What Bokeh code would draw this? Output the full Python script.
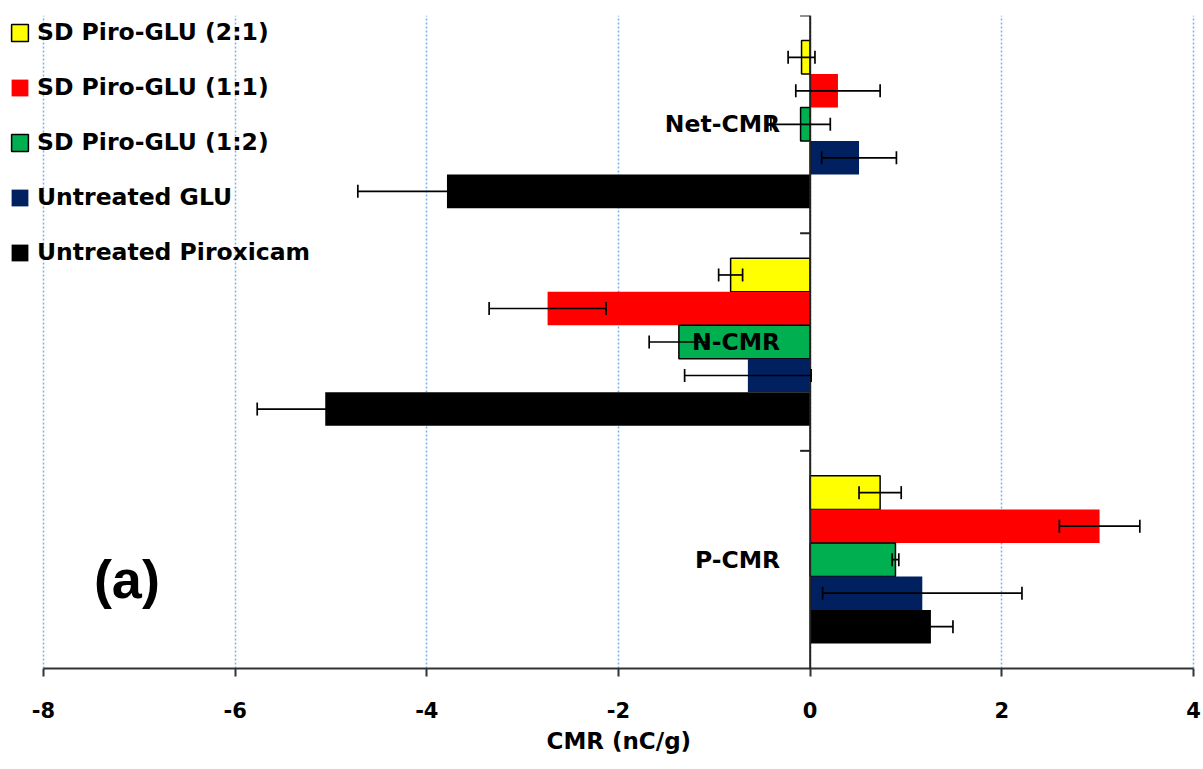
from bokeh.plotting import figure
from bokeh.models import (Range1d, FixedTicker, Whisker, TeeHead, ColumnDataSource, Span,
                          Label, Title)
from bokeh.core.properties import value
from bokeh.embed import file_html
from bokeh.resources import INLINE

# ---------------- data ----------------
categories = ["Net-CMR", "N-CMR", "P-CMR"]
series_names = ["SD Piro-GLU (2:1)", "SD Piro-GLU (1:1)", "SD Piro-GLU (1:2)",
                "Untreated GLU", "Untreated Piroxicam"]
vals_21 = [-0.09, -0.83, 0.73]
err_21 = [0.14, 0.125, 0.22]
vals_11 = [0.29, -2.74, 3.02]
err_11 = [0.44, 0.61, 0.42]
vals_12 = [-0.10, -1.37, 0.89]
err_12 = [0.31, 0.31, 0.035]
vals_glu = [0.51, -0.65, 1.17]
err_glu = [0.39, 0.66, 1.04]
vals_pir = [-3.79, -5.06, 1.26]
err_pir = [0.93, 0.71, 0.23]
x_ticks = [-8, -6, -4, -2, 0, 2, 4]
x_tick_labels = ["-8", "-6", "-4", "-2", "0", "2", "4"]
x_title = "CMR (nC/g)"

all_vals = [vals_21, vals_11, vals_12, vals_glu, vals_pir]
all_errs = [err_21, err_11, err_12, err_glu, err_pir]
colors = ["#FFFF00", "#FF0000", "#00B050", "#002060", "#000000"]
outlines = ["black", None, "black", None, None]

FONT = "DejaVu Sans"
n_cat = len(categories)
bar_h = 0.154

W, H = 1203, 769
PAD_L, PAD_R = 43, 10          # pixel room outside the -8..4 axis span
xmin, xmax = x_ticks[0], x_ticks[-1]
k = (W - PAD_L - PAD_R) / (xmax - xmin)
x_range = Range1d(xmin - PAD_L / k, xmax + PAD_R / k)

p = figure(width=W, height=H, x_range=x_range, y_range=Range1d(0, n_cat),
           output_backend="svg", toolbar_location=None, y_axis_location=None,
           min_border_left=0, min_border_right=0, min_border_top=15, min_border_bottom=101)
p.outline_line_color = None
p.background_fill_color = "white"

# grid
p.ygrid.visible = False
p.xgrid.ticker = FixedTicker(ticks=x_ticks)
p.xgrid.grid_line_color = "#7DB0E6"
p.xgrid.grid_line_dash = "2 2"
p.xgrid.grid_line_width = 1.5

# x axis
ax = p.xaxis[0]
ax.bounds = (xmin, xmax)
ax.ticker = FixedTicker(ticks=x_ticks)
ax.major_label_overrides = {t: lab for t, lab in zip(x_ticks, x_tick_labels)}
ax.axis_line_color = "#333333"
ax.axis_line_width = 2
ax.major_tick_line_color = "#333333"
ax.major_tick_line_width = 2
ax.major_tick_out = 8
ax.major_tick_in = 0
ax.minor_tick_line_color = None
ax.major_label_text_font = FONT
ax.major_label_text_font_style = "bold"
ax.major_label_text_font_size = "21px"
ax.major_label_text_color = "black"
ax.major_label_standoff = 25

# spacer between tick labels and the axis title
p.add_layout(Title(text=" ", text_font_size="1px", text_alpha=0, standoff=8), "below")
# x-axis title, centred under the -8..4 span
t_width_est = 144
p.add_layout(Title(text=x_title, align="left", offset=PAD_L + (W - PAD_L - PAD_R) / 2 - t_width_est / 2,
                   text_font=FONT, text_font_style="bold", text_font_size="23px",
                   text_color="black", standoff=10), "below")

# bars
cat_centers = [n_cat - i - 0.5 for i in range(n_cat)]
for s, (name, vals, errs, col, oc) in enumerate(zip(series_names, all_vals, all_errs, colors, outlines)):
    ys = [c + (2 - s) * bar_h for c in cat_centers]
    src = ColumnDataSource(dict(y=ys, v=vals, lo=[v - e for v, e in zip(vals, errs)],
                                hi=[v + e for v, e in zip(vals, errs)]))
    p.hbar(y="y", left=0, right="v", height=bar_h, source=src, fill_color=col,
           line_color=oc, line_width=1.5, legend_label=name)
    w = Whisker(source=src, base="y", lower="lo", upper="hi", dimension="width",
                line_color="black", line_width=1.7, level="overlay",
                upper_head=TeeHead(size=13, line_color="black", line_width=1.7),
                lower_head=TeeHead(size=13, line_color="black", line_width=1.7))
    p.add_layout(w)

# vertical (category) axis at x = 0
p.add_layout(Span(location=0, dimension="height", line_color="#222222", line_width=2))
tick_ys = [float(i) for i in range(1, n_cat + 1)]
p.segment(x0=[-0.105] * len(tick_ys), x1=[0] * len(tick_ys), y0=tick_ys, y1=tick_ys,
          line_color="#222222", line_width=2)

# category labels
p.text(x=[0] * n_cat, y=cat_centers, text=categories, x_offset=-30,
       text_align="right", text_baseline="middle", text_font=value(FONT),
       text_font_style="bold", text_font_size="23.5px", text_color="black")

# panel label
p.add_layout(Label(x=-7.13, y=0.413, text="(a)", text_font="Liberation Sans",
                   text_font_style="bold", text_font_size="54px",
                   text_align="center", text_baseline="middle", text_color="black"))

# legend
lg = p.legend[0]
lg.location = (4, 397)
lg.background_fill_alpha = 0
lg.border_line_alpha = 0
lg.padding = 5
lg.margin = 0
lg.spacing = 27
lg.label_height = 27
lg.glyph_height = 21
lg.glyph_width = 21
lg.label_standoff = 7
lg.label_text_font = FONT
lg.label_text_font_style = "bold"
lg.label_text_font_size = "23.5px"
lg.label_text_color = "black"

open("out.html", "w").write(file_html(p, INLINE))
